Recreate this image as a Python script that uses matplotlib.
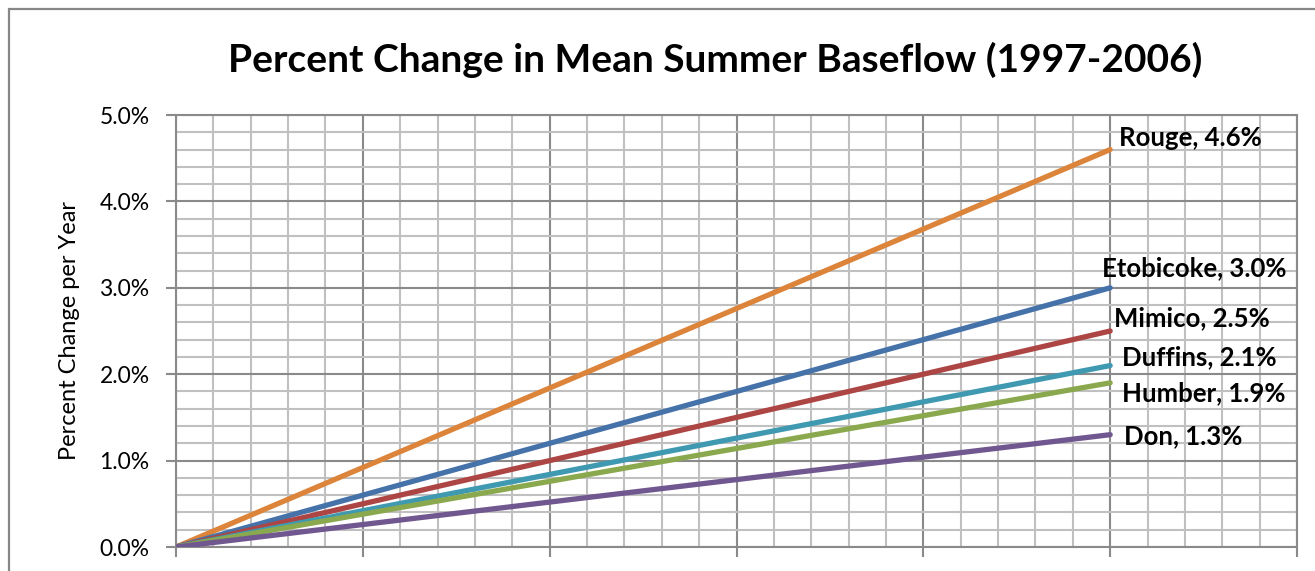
import matplotlib
matplotlib.use("Agg")
import matplotlib.pyplot as plt
from matplotlib.ticker import MultipleLocator, FuncFormatter
from matplotlib.patches import Rectangle

# data: percent change per year by watershed
rivers = ['Rouge', 'Etobicoke', 'Mimico', 'Duffins', 'Humber', 'Don']
rates = [4.6, 3.0, 2.5, 2.1, 1.9, 1.3]
x_points = [0, 5]

colors = ['#DD843B', '#4672AA', '#AC4543', '#3F99B0', '#8AA94E', '#71578F']
# label offsets in pixels from line end (dx, dy)
offsets = [(9, 12), (-8, 20), (4, 13), (12, 8), (12, -10), (14, -1)]

plt.rcParams['font.family'] = ['Lato', 'DejaVu Sans']

fig = plt.figure(figsize=(13.15, 5.71), dpi=100)
ax = fig.add_axes([176/1315, 1 - 547/571, (1297-176)/1315, (547-115)/571])

# outer chart border
fig.patches.append(Rectangle((9/1315, -0.2), 1.2, 1 - 9/571 + 0.2,
                             transform=fig.transFigure, fill=False,
                             edgecolor='#878787', lw=1.6))

for name, r, c, (dx, dy) in zip(rivers, rates, colors, offsets):
    ax.plot(x_points, [0, r], color=c, lw=3.8, solid_capstyle='round', zorder=3)
    ax.annotate(f"{name}, {r:.1f}%", (x_points[-1], r), xytext=(dx, dy),
                textcoords='offset pixels', ha='left', va='center',
                fontsize=18.5, fontweight='bold', zorder=4)

ax.set_xlim(0, 6)
ax.set_ylim(0, 5.0)
ax.xaxis.set_major_locator(MultipleLocator(1))
ax.xaxis.set_minor_locator(MultipleLocator(0.2))
ax.yaxis.set_major_locator(MultipleLocator(1))
ax.yaxis.set_minor_locator(MultipleLocator(0.2))
ax.yaxis.set_major_formatter(FuncFormatter(lambda v, p: f"{v:.1f}%"))
ax.set_xticklabels([])

ax.grid(which='minor', color='#C0C0C0', lw=1.5)
ax.grid(which='major', color='#8A8A8A', lw=1.5)
ax.set_axisbelow(True)
ax.tick_params(which='minor', length=0)
ax.tick_params(which='major', length=7, width=1.5, color='#8A8A8A',
               labelsize=16.5, pad=12)
for s in ax.spines.values():
    s.set_color('#8A8A8A')
    s.set_linewidth(1.5)

ax.set_ylabel('Percent Change per Year', fontsize=17, labelpad=14)
fig.text(715/1315, 1 - 60/571, 'Percent Change in Mean Summer Baseflow (1997-2006)',
         ha='center', va='center', fontsize=28, fontweight='bold')

fig.savefig('out.png', dpi=100)
